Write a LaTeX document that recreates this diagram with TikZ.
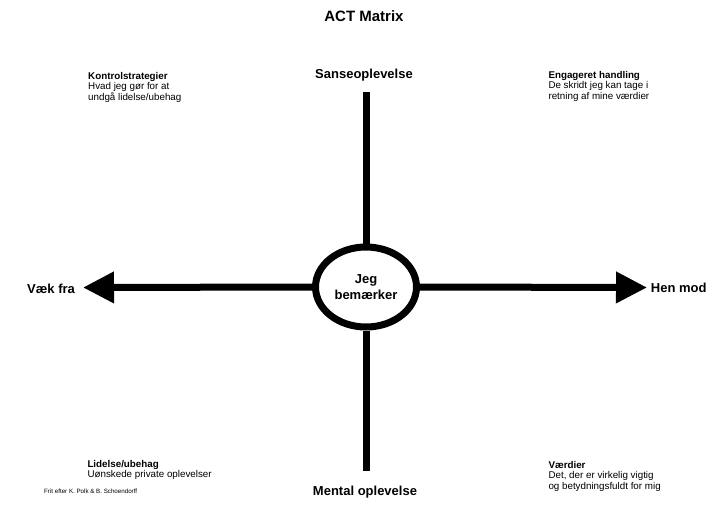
\documentclass[tikz,border=0pt]{standalone}
\usepackage{fontspec}
\setmainfont{Liberation Sans}
\usetikzlibrary{shapes.geometric,arrows.meta}
\tikzset{
  axis/.style={line width=7pt},
  arrowaxis/.style={line width=7pt,-{Triangle[length=31pt,width=30pt]}},
  biglabel/.style={inner sep=0,anchor=base,font=\fontsize{13}{15}\selectfont\bfseries},
  qtext/.style={inner sep=0,anchor=base west,font=\fontsize{9.8}{10.6}\selectfont},
  center/.style={draw,ellipse,line width=7pt,minimum width=101pt,minimum height=80pt,inner sep=0,fill=white,align=center,font=\fontsize{13}{15.5}\selectfont\bfseries}
}
\begin{document}
\begin{tikzpicture}[x=1pt,y=-1pt]
\fill[white] (0,0) rectangle (727,506);
\useasboundingbox (0,0) rectangle (727,506);

\node[inner sep=0,anchor=base,font=\fontsize{15}{17}\selectfont\bfseries] (title) at (364,21.3) {ACT Matrix};

\coordinate (top) at (366,92);
\coordinate (bot) at (366,471);
\coordinate (ltip) at (83,287.5);
\coordinate (rtip) at (647,287.5);

\node[center] (me) at (366,287) {Jeg\\bemærker};

\draw[axis] (top) -- (me.north);
\draw[axis] (me.south) -- (bot);
\draw[arrowaxis] (me.west) -- (ltip);
\draw[arrowaxis] (me.east) -- (rtip);

\node[biglabel] (sanse) at (364,78.3) {Sanseoplevelse};
\node[biglabel] (mental) at (365,495) {Mental oplevelse};
\node[biglabel,anchor=base west] (vaek) at (27,293) {Væk fra};
\node[biglabel,anchor=base west] (hen) at (650.7,292.3) {Hen mod};

\node[qtext] (kontrol) at (88,79) {\begin{tabular}[t]{@{}l@{}}\textbf{Kontrolstrategier}\\Hvad jeg gør for at\\undgå lidelse/ubehag\end{tabular}};
\node[qtext] (engag) at (548.3,78.3) {\begin{tabular}[t]{@{}l@{}}\textbf{Engageret handling}\\De skridt jeg kan tage i\\retning af mine værdier\end{tabular}};
\node[qtext] (lidelse) at (87.3,467.3) {\begin{tabular}[t]{@{}l@{}}\textbf{Lidelse/ubehag}\\Uønskede private oplevelser\end{tabular}};
\node[qtext] (vaerdi) at (548.3,468.3) {\begin{tabular}[t]{@{}l@{}}\textbf{Værdier}\\Det, der er virkelig vigtig\\og betydningsfuldt for mig\end{tabular}};

\node[inner sep=0,anchor=base west,font=\fontsize{6.2}{7}\selectfont] (footer) at (44,493) {Frit efter K. Polk \& B. Schoendorff};
\end{tikzpicture}
\end{document}
